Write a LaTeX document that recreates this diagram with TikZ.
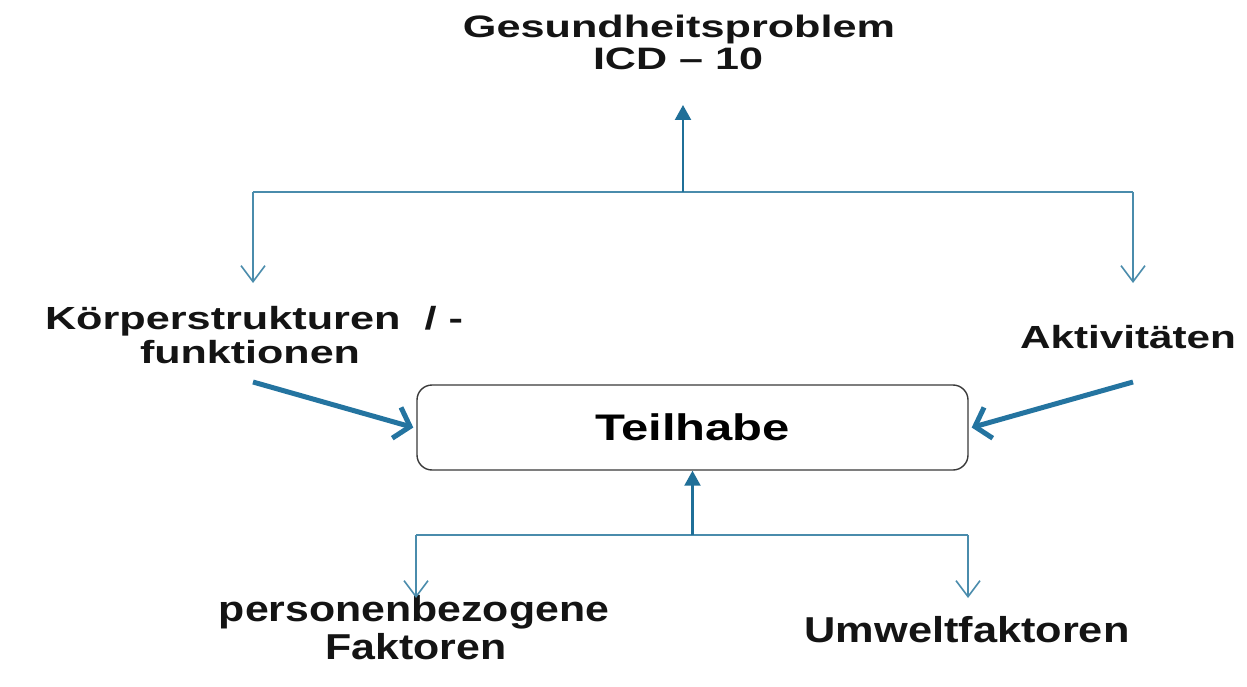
\documentclass[tikz,border=0pt]{standalone}
\usepackage{fontspec}
\setmainfont{Liberation Sans}
\usetikzlibrary{arrows.meta}

\definecolor{linkblue}{HTML}{4A8CAC}
\definecolor{headblue}{HTML}{1F6F98}
\definecolor{boldblue}{HTML}{2474A0}
\definecolor{boxline}{HTML}{3A3A3A}

% stretch a label horizontally to a given width (pt), keeping its height
\newcommand{\wlabel}[2]{\resizebox{#1pt}{\height}{#2}}

\tikzset{
  lbl/.style={inner sep=0pt, anchor=base, font=\bfseries\fontsize{32}{38}\selectfont, text=black!92},
  lowlbl/.style={lbl, font=\bfseries\fontsize{36}{42}\selectfont},
  toplbl/.style={lbl, font=\bfseries\fontsize{31}{37}\selectfont},
  centrebox/.style={draw=boxline, line width=1.4pt, rounded corners=15pt, fill=white,
    minimum width=551pt, minimum height=85pt, inner sep=0pt,
    font=\bfseries\fontsize{37}{43}\selectfont},
  fork/.style={draw=linkblue, line width=1.8pt},
  solidup/.style={fork, -{Triangle[width=16pt,length=15pt]}, line width=2.2pt, draw=headblue},
  opendown/.style={fork, -{Straight Barb[length=16pt,width=24pt,line width=1.6pt]}},
  heavy/.style={draw=boldblue, line width=5pt, -{Straight Barb[length=14pt,width=32pt,line width=5pt]}}
}

\begin{document}
\begin{tikzpicture}[x=1pt, y=-1pt]
  \useasboundingbox[fill=white] (0,0) rectangle (1247,687);

  % labels
  \node[toplbl] (gp)  at (679,38)  {\wlabel{432}{Gesundheitsproblem}};
  \node[toplbl] (icd) at (678,70)  {\wlabel{170}{ICD -- 10}};
  \node[lbl] (koer)   at (254,329) {\wlabel{418}{Körperstrukturen\ \ / -}};
  \node[lbl] (funk)   at (250,363) {\wlabel{220}{funktionen}};
  \node[lbl] (akt)    at (1128,348) {\wlabel{216}{Aktivitäten}};
  \node[lowlbl] (pers) at (414,621) {\wlabel{390}{personenbezogene}};
  \node[lowlbl] (fak)  at (416,659) {\wlabel{181}{Faktoren}};
  \node[lowlbl] (umw)  at (967,642) {\wlabel{325}{Umweltfaktoren}};

  % central box
  \node[centrebox] (teil) at (692.5,427.5) {\wlabel{195}{Teilhabe}};

  % upper fork
  \coordinate (tl) at (253,192);
  \coordinate (tr) at (1133,192);
  \coordinate (tm) at (683,192);
  \coordinate (gtip) at (683,105);
  \coordinate (ltip) at (253,283);
  \coordinate (rtip) at (1133,283);
  \draw[fork] (tl) -- (tr);
  \draw[solidup] (tm) -- (gtip);
  \draw[opendown] (tl) -- (ltip);
  \draw[opendown] (tr) -- (rtip);

  % heavy arrows into the box
  \coordinate (lfrom) at (253,382);
  \coordinate (rfrom) at (1133,382);
  \draw[heavy] (lfrom) -- ([xshift=-3pt]teil.west);
  \draw[heavy] (rfrom) -- ([xshift=3pt]teil.east);

  % lower fork
  \coordinate (bl) at (416,535);
  \coordinate (br) at (968,535);
  \coordinate (bm) at (692.5,535);
  \coordinate (bltip) at (416,598);
  \coordinate (brtip) at (968,598);
  \draw[fork] (bl) -- (br);
  \draw[solidup] (bm) -- (teil.south);
  \draw[opendown] (bl) -- (bltip);
  \draw[opendown] (br) -- (brtip);
\end{tikzpicture}
\end{document}
